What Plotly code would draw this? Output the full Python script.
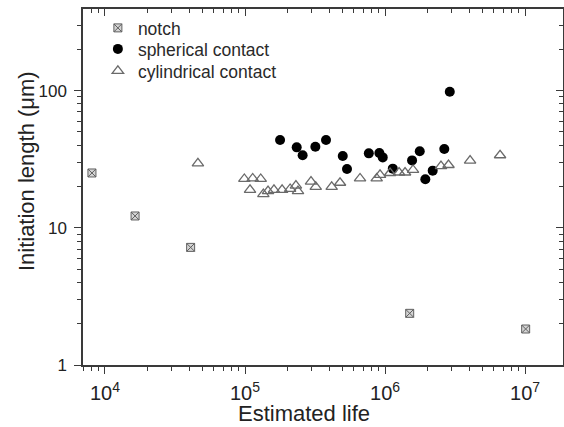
import plotly.graph_objects as go

# ---- data ----
notch_life = [8070, 16400, 40900, 1.50e6, 1.01e7]
notch_len = [25.1, 12.2, 7.2, 2.38, 1.83]

sph_life = [1.78e5, 2.34e5, 2.58e5, 3.18e5, 3.79e5, 4.99e5, 5.35e5, 7.66e5, 9.11e5,
            9.63e5, 1.136e6, 1.56e6, 1.77e6, 1.94e6, 2.19e6, 2.65e6, 2.90e6]
sph_len = [43.6, 38.6, 33.8, 39.0, 43.6, 33.4, 26.8, 34.9, 35.1,
           32.6, 27.0, 31.0, 36.1, 22.6, 26.1, 37.5, 98.2]

cyl_life = [46100, 98900, 1.135e5, 1.295e5, 1.086e5, 1.352e5, 1.46e5, 1.61e5, 1.84e5,
            2.10e5, 2.31e5, 2.39e5, 2.96e5, 3.20e5, 4.16e5, 4.77e5, 6.63e5, 8.72e5,
            9.21e5, 1.086e6, 1.26e6, 1.39e6, 1.585e6, 2.51e6, 2.84e6, 4.05e6, 6.63e6]
cyl_len = [29.5, 22.7, 22.9, 22.7, 18.9, 17.6, 18.5, 18.9, 18.9,
           19.2, 20.3, 18.5, 21.7, 19.9, 19.9, 21.3, 22.9, 22.9,
           24.3, 25.1, 25.3, 25.3, 26.4, 28.2, 28.7, 30.9, 33.8]

x_range_log = [3.843, 7.271]
y_range_log = [0.0, 2.595]
y_tickvals = [1, 10, 100]
y_ticktext = ["1", "10", "100"]

FONT = "Arial, 'Liberation Sans', Helvetica, sans-serif"
AX = "#3a3a3a"

fig = go.Figure()
fig.add_trace(go.Scatter(
    x=notch_life, y=notch_len, mode="markers", name="notch", legend="legend",
    marker=dict(symbol="square-x", size=8, color="#d4d4d4",
                line=dict(color="#606060", width=1))))
fig.add_trace(go.Scatter(
    x=sph_life, y=sph_len, mode="markers", name="spherical contact", legend="legend2",
    marker=dict(symbol="circle", size=10, color="black",
                line=dict(color="black", width=0))))
fig.add_trace(go.Scatter(
    x=cyl_life, y=cyl_len, mode="markers", name="cylindrical contact", legend="legend3",
    marker=dict(symbol="triangle-up-open", size=10, color="#6a6a6a",
                line=dict(color="#6a6a6a", width=1.3))))
# empty traces so the mirrored (top/right) axes are instantiated
fig.add_trace(go.Scatter(x=[], y=[], xaxis="x2", yaxis="y", showlegend=False))
fig.add_trace(go.Scatter(x=[], y=[], xaxis="x", yaxis="y2", showlegend=False))

common_minor_out = dict(ticks="outside", ticklen=4, tickwidth=1, tickcolor=AX, dtick="D1")
common_minor_in = dict(ticks="inside", ticklen=4, tickwidth=1, tickcolor=AX, dtick="D1")

leg_common = dict(x=0.031, xanchor="left", yanchor="middle", bgcolor="rgba(0,0,0,0)",
                  font=dict(size=17.5, family=FONT, color="#2a2a2a"), itemsizing="trace")

fig.update_layout(
    width=564, height=427,
    margin=dict(l=83, r=1, t=9, b=62),
    paper_bgcolor="white", plot_bgcolor="white",
    font=dict(family=FONT, color="#222222"),
    showlegend=True,
    legend=dict(y=0.9466, **leg_common),
    legend2=dict(y=0.8876, **leg_common),
    legend3=dict(y=0.8258, **leg_common),
    xaxis=dict(type="log", range=x_range_log, dtick=1, exponentformat="power",
               showgrid=False, zeroline=False, showline=True, linecolor=AX, linewidth=1.5,
               ticks="outside", ticklen=7, tickwidth=1.2, tickcolor=AX, ticklabelstandoff=3,
               tickfont=dict(size=16, family=FONT, color="#222222"),
               minor=common_minor_out, mirror=False),
    yaxis=dict(type="log", range=y_range_log, tickmode="array", tickvals=y_tickvals,
               ticktext=y_ticktext,
               showgrid=False, zeroline=False, showline=True, linecolor=AX, linewidth=1.5,
               ticks="outside", ticklen=7, tickwidth=1.2, tickcolor=AX, ticklabelstandoff=4,
               tickfont=dict(size=17, family=FONT, color="#222222"),
               minor=common_minor_out, mirror=False),
    xaxis2=dict(type="log", range=x_range_log, dtick=1, overlaying="x", side="top",
                anchor="y", showticklabels=False, showgrid=False, zeroline=False,
                showline=True, linecolor=AX, linewidth=1.5,
                ticks="inside", ticklen=7, tickwidth=1.2, tickcolor=AX,
                minor=common_minor_in),
    yaxis2=dict(type="log", range=y_range_log, tickmode="array", tickvals=y_tickvals,
                overlaying="y", side="right", anchor="x",
                showticklabels=False, showgrid=False, zeroline=False,
                showline=True, linecolor=AX, linewidth=1.5,
                ticks="inside", ticklen=7, tickwidth=1.2, tickcolor=AX,
                minor=common_minor_in),
    annotations=[
        dict(text="Estimated life", xref="paper", yref="paper", x=0.4605, y=-0.1376,
             xanchor="center", yanchor="middle", showarrow=False,
             font=dict(size=22, family=FONT, color="#222222")),
        dict(text="Initiation length (μm)", xref="paper", yref="paper", x=-0.1164, y=0.545,
             xanchor="center", yanchor="middle", showarrow=False, textangle=-90,
             font=dict(size=22, family=FONT, color="#222222")),
    ],
)

fig.write_html("out.html")
